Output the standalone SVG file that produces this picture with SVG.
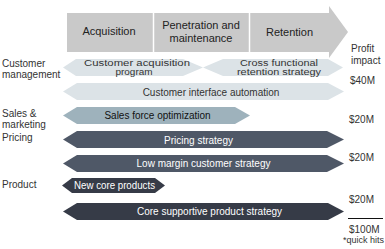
<svg xmlns="http://www.w3.org/2000/svg" width="385" height="249" viewBox="0 0 385 249">
<style>
text{font-family:"Liberation Sans",Arial,sans-serif;}
.lbl{font-size:10px;fill:#333;}
.hd{font-size:11px;fill:#222;text-anchor:middle;}
.bt{font-size:10px;text-anchor:middle;}
.r1{font-size:8.5px;fill:#333;text-anchor:middle;}
.light{fill:#dce3e7;}
.mid{fill:#9eb2bc;}
.dark{fill:#4f5867;}
.darker{fill:#363b47;}
.val{font-size:10px;fill:#333;}
</style>
<rect width="385" height="249" fill="#fff"/>
<g id="header">
<polygon points="67,13 329,13 329,6 348,32 329,58 329,52 67,52" fill="#c9c9c9"/>
<line x1="153.5" y1="13" x2="153.5" y2="52" stroke="#fff" stroke-width="1.5"/>
<line x1="249.5" y1="13" x2="249.5" y2="52" stroke="#fff" stroke-width="1.5"/>
<text class="hd" x="109" y="35">Acquisition</text>
<text class="hd" x="201" y="29">Penetration and</text>
<text class="hd" x="201" y="42">maintenance</text>
<text class="hd" x="289.5" y="36">Retention</text>
</g>
<g id="left-labels">
<text class="lbl" x="2" y="67">Customer</text>
<text class="lbl" x="2" y="78">management</text>
<text class="lbl" x="2" y="116.5">Sales &amp;</text>
<text class="lbl" x="2" y="128">marketing</text>
<text class="lbl" x="2" y="141">Pricing</text>
<text class="lbl" x="2" y="188">Product</text>
</g>
<g id="row1-acq">
<polygon class="light" points="63,67.5 76,59 183,59 203,67.5 183,76 76,76"/>
<text class="r1" x="137" y="66" textLength="106" lengthAdjust="spacingAndGlyphs">Customer acquisition</text>
<text class="r1" x="134" y="74.5" textLength="37" lengthAdjust="spacingAndGlyphs">program</text>
</g>
<g id="row1-ret">
<polygon class="light" points="203,67.5 223,59 328,59 343,67.5 328,76 223,76"/>
<text class="r1" x="279" y="66" textLength="78" lengthAdjust="spacingAndGlyphs">Cross functional</text>
<text class="r1" x="279" y="74.5" textLength="84" lengthAdjust="spacingAndGlyphs">retention strategy</text>
</g>
<g id="row2">
<polygon class="light" points="63,91.5 77,83 328,83 344,91.5 328,100 77,100"/>
<text class="bt" x="211" y="95.5" fill="#333">Customer interface automation</text>
</g>
<g id="row3">
<polygon class="mid" points="63,115.5 77,107 235,107 250,115.5 235,124 77,124"/>
<text class="bt" x="157.5" y="119" fill="#111">Sales force optimization</text>
</g>
<g id="row4">
<polygon class="dark" points="63,139.5 77,131 327,131 344,139.5 327,148 77,148"/>
<text class="bt" x="198.5" y="143.5" fill="#fff" font-size="10.5">Pricing strategy</text>
</g>
<g id="row5">
<polygon class="dark" points="63,163.5 77,155 327,155 344,163.5 327,172 77,172"/>
<text class="bt" x="203.5" y="167" fill="#fff">Low margin customer strategy</text>
</g>
<g id="row6">
<polygon class="darker" points="62,185.5 72,178 155,178 165,185.5 155,193 72,193"/>
<text class="bt" x="114.5" y="189" fill="#fff" textLength="81" lengthAdjust="spacingAndGlyphs">New core products</text>
</g>
<g id="row7">
<polygon class="darker" points="63,211.5 77,203 328,203 344,211.5 328,220 77,220"/>
<text class="bt" x="209.5" y="215" fill="#fff">Core supportive product strategy</text>
</g>
<g id="impact">
<text class="val" x="351" y="51.5">Profit</text>
<text class="val" x="351" y="63.5">impact</text>
<text class="val" x="350" y="84">$40M</text>
<text class="val" x="349" y="123">$20M</text>
<text class="val" x="349" y="161">$20M</text>
<text class="val" x="349" y="203">$20M</text>
<line x1="348" y1="218.5" x2="383" y2="218.5" stroke="#111" stroke-width="1"/>
<text class="val" x="349" y="233">$100M</text>
<text x="343" y="242.5" font-size="9" fill="#333">*quick hits</text>
</g>
</svg>
